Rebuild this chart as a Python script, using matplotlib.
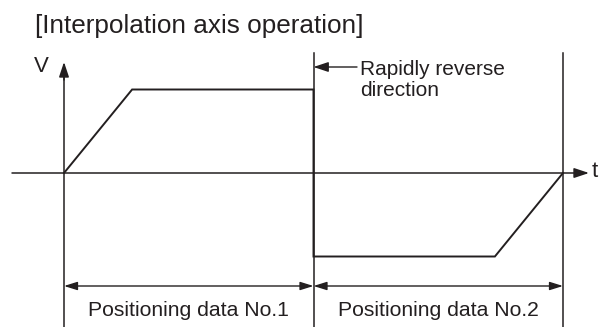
import matplotlib
matplotlib.use("Agg")
import matplotlib.pyplot as plt

# ---- data ----
time_pts = [0.0, 0.273, 1.0, 1.0, 1.727, 2.0]
velocity = [0.0, 1.0, 1.0, -1.0, -1.0, 0.0]
boundaries = [0.0, 1.0, 2.0]
segment_labels = ["Positioning data No.1", "Positioning data No.2"]
title = "[Interpolation axis operation]"
annotation = "Rapidly reverse\ndirection"
x_label = "t"
y_label = "V"

W, H, DPI = 607, 327, 100
plt.rcParams['font.family'] = ['Liberation Sans', 'DejaVu Sans']
fig = plt.figure(figsize=(W / DPI, H / DPI), dpi=DPI)
ax = fig.add_axes([0, 0, 1, 1])
ax.set_axis_off()

# scale: t=0 at px 64, t=2 at px 563; v=0 at px 173 (from top), v=1 at px 90
sx = (563 - 64) / 2.0
sy = 83.5
ax.set_xlim(-64 / sx, (W - 64) / sx)
ax.set_ylim(-(H - 173) / sy, 173 / sy)

def px(x, y):
    return ((x - 64) / sx, (173 - y) / sy)

col = "#231f20"

# profile
ax.plot(time_pts, velocity, color=col, lw=1.4, solid_joinstyle='miter')

# t axis
ax.annotate("", xy=px(589, 173), xytext=px(12, 173),
            arrowprops=dict(arrowstyle="-|>,head_length=0.9,head_width=0.3",
                            color=col, lw=1.1, shrinkA=0, shrinkB=0))
ax.text(*px(592, 172), x_label, fontsize=16, color=col, va='center', ha='left')

# V axis
ax.plot([0, 0], [px(0, 75)[1], px(0, 330)[1]], color=col, lw=1.1)
ax.annotate("", xy=px(64, 62), xytext=px(64, 80),
            arrowprops=dict(arrowstyle="-|>,head_length=0.9,head_width=0.3",
                            color=col, lw=1.1, shrinkA=0, shrinkB=0))
ax.text(*px(34, 67), y_label, fontsize=16, color=col, va='center', ha='left')

# boundary verticals (mid & right)
for b in boundaries[1:]:
    ax.plot([b, b], [px(0, 53)[1], px(0, 330)[1]], color=col, lw=1.1)

# annotation arrow
ax.annotate("", xy=(boundaries[1], px(0, 67)[1]), xytext=px(357, 67),
            arrowprops=dict(arrowstyle="-|>,head_length=0.9,head_width=0.3",
                            color=col, lw=1.0, shrinkA=0, shrinkB=0))
ax.text(*px(360, 80), annotation, fontsize=15, color=col, va='center', ha='left',
        linespacing=1.15)

# dimension arrows
ydim = px(0, 286)[1]
for i, lab in enumerate(segment_labels):
    a, b = boundaries[i], boundaries[i + 1]
    ax.annotate("", xy=(b, ydim), xytext=(a, ydim),
                arrowprops=dict(arrowstyle="<|-|>,head_length=0.8,head_width=0.25",
                                color=col, lw=1.0, shrinkA=0, shrinkB=0))
    ax.text((a + b) / 2, px(0, 310)[1], lab, fontsize=15.2, color=col,
            ha='center', va='center')

# title
ax.text(*px(35, 26), title, fontsize=18.8, color=col, va='center', ha='left')

fig.savefig("out.png", dpi=DPI)
